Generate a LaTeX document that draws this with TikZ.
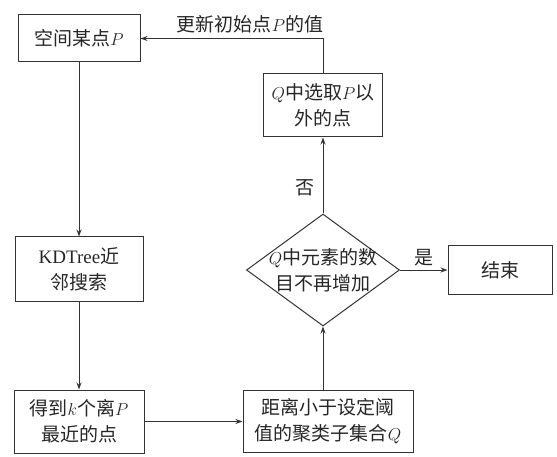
\documentclass[tikz,border=0pt]{standalone}
\usepackage{fontspec}
\setmainfont{Liberation Serif}
\newfontfamily\cjkfont{Noto Sans CJK SC}
\usetikzlibrary{shapes.geometric,arrows.meta}

\begin{document}
\begin{tikzpicture}[x=1pt,y=-1pt,line width=1pt,
      every node/.style={font=\cjkfont\fontsize{19}{26}\selectfont,align=center,text=black!85},
      box/.style={draw=black!80,shape=rectangle,inner sep=0pt},
      decision/.style={draw=black!80,shape=diamond,inner sep=0pt,minimum width=153pt,minimum height=112pt},
      flow/.style={draw=black!80,-{Stealth[length=7pt,width=5pt]}}]
      \useasboundingbox (0,0) rectangle (557,457);
      % left column
      \node[box,minimum width=122pt,minimum height=47pt] (point) at (79,38.5) {空间某点$P$};
      \node[box,minimum width=128pt,minimum height=64pt] (search) at (79,269) {\textrm{KDTree}近\\邻搜索};
      \node[box,minimum width=130pt,minimum height=63pt] (near) at (79,421.5) {得到$k$个离$P$\\最近的点};
      % right column
      \node[box,minimum width=170pt,minimum height=62pt] (subset) at (328,421.5) {距离小于设定阈\\值的聚类子集合$Q$};
      \node[decision,label={center:{$Q$中元素的数\\目不再增加}}] (check) at (323,270) {};
      \node[box,minimum width=104pt,minimum height=49pt] (stop) at (500,270) {结束};
      \node[box,minimum width=119pt,minimum height=63pt] (pick) at (323,105.5) {$Q$中选取$P$以\\外的点};
      % connectors
      \draw[flow] (point) -- (search);
      \draw[flow] (search) -- (near);
      \draw[flow] (near) -- (subset);
      \draw[flow] (subset.north -| check.south) -- (check.south);
      \draw[flow] (check) -- node[above]{是} (stop);
      \draw[flow] (check) -- node[left=5pt,pos=0.34]{否} (pick);
      \draw[flow] (pick) |- node[above=2pt,pos=0.7]{更新初始点$P$的值} (point);
\end{tikzpicture}
\end{document}
